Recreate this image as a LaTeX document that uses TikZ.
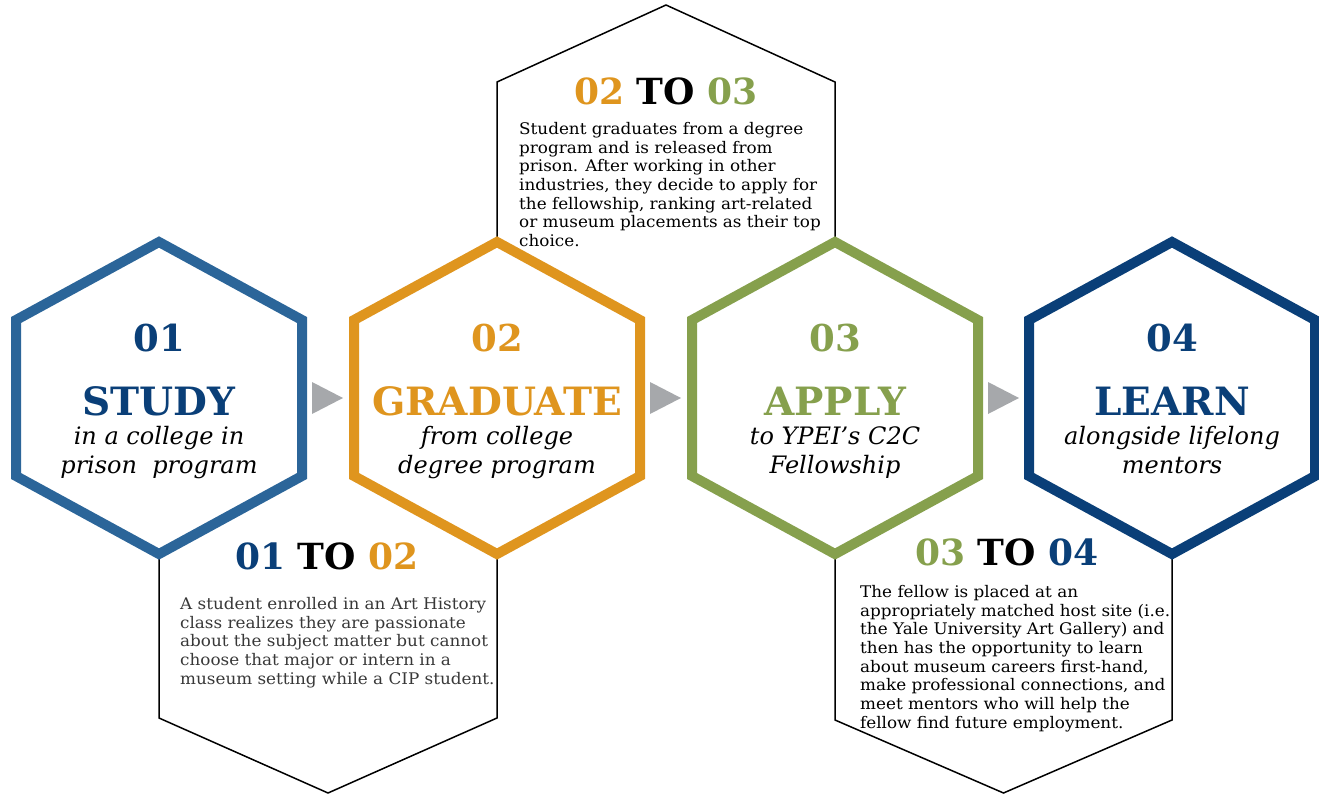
\documentclass[tikz,border=0pt]{standalone}
\usepackage{fontspec}
\setmainfont{DejaVu Serif}
\newfontfamily\bodyfont[FakeStretch=1.05]{DejaVu Serif}
\usetikzlibrary{positioning}

\definecolor{stepblue}{HTML}{2B6599}
\definecolor{stepnavy}{HTML}{0A3F78}
\definecolor{steporange}{HTML}{DF951E}
\definecolor{stepgreen}{HTML}{86A04D}
\definecolor{arrowgray}{HTML}{A6A8AB}

\tikzset{
  hexline/.style={line width=10pt, fill=white},
  outline/.style={line width=1.5pt, black},
  stepnum/.style={font=\fontsize{37}{40}\selectfont\bfseries, anchor=base, inner sep=0pt},
  steptitle/.style={font=\fontsize{39}{42}\selectfont\bfseries, anchor=base, inner sep=0pt},
  stepsub/.style={font=\itshape\fontsize{24}{30}\selectfont, anchor=base, inner sep=0pt},
  linkhead/.style={font=\fontsize{36}{40}\selectfont\bfseries, anchor=base, inner sep=0pt},
  linkbody/.style={font=\bodyfont\fontsize{16}{18.7}\selectfont, align=left, anchor=north west, inner sep=0pt},
}

% one coloured step hexagon round coordinate #1
\newcommand{\hexstep}[2]{%
  \draw[hexline, draw=#2] (#1) ++(0,-156) -- ++(143,78) -- ++(0,156)
    -- ++(-143,78) -- ++(-143,-78) -- ++(0,-156) -- cycle;
}

\begin{document}
\begin{tikzpicture}[x=1pt, y=-1pt]
    \useasboundingbox (0,0) rectangle (1319,794);

    % Step centres
    \coordinate (h1) at (159,398);
    \coordinate (h2) at (497,398);
    \coordinate (h3) at (835,398);
    \coordinate (h4) at (1172,398);

    % Thin outlines behind the steps
    \draw[outline] (h2) -- ++(0,-316) -- ++(169,-77) -- ++(169,77) -- (h3);
    \draw[outline] (h1) -- ++(0,320) -- ++(169,75) -- ++(169,-75) -- (h2);
    \draw[outline] (h3) -- ++(0,322) -- ++(168.5,73) -- ++(168.5,-73) -- (h4);

    % Step hexagons
    \hexstep{h1}{stepblue}
    \hexstep{h2}{steporange}
    \hexstep{h3}{stepgreen}
    \hexstep{h4}{stepnavy}

    % Arrows between steps
    \foreach \h in {h1,h2,h3}
      \fill[arrowgray] ([xshift=153pt, yshift=16pt]\h) -- ++(31,16) -- ++(-31,16) -- cycle;

    % Step texts
    \foreach \h/\num/\title/\subA/\subB/\col in {
        h1/01/STUDY/in a college in/prison\ \ program/stepnavy,
        h2/02/GRADUATE/from college/degree program/steporange,
        h3/03/APPLY/to YPEI’s C2C/Fellowship/stepgreen,
        h4/04/LEARN/alongside lifelong/mentors/stepnavy} {
      \node[stepnum, text=\col] (\h-num) at ([yshift=47pt]\h) {\num};
      \node[steptitle, text=\col] (\h-title) at ([yshift=-17pt]\h) {\title};
      \node[stepsub] (\h-subA) at ([yshift=-46pt]\h) {\subA};
      \node[stepsub] (\h-subB) at ([yshift=-75pt]\h) {\subB};
    }

    % Links between steps
    \node[linkhead] (l12) at (327,569) {{\color{stepnavy}01} TO {\color{steporange}02}};
    \node[linkhead] (l23) at (666,105) {{\color{steporange}02} TO {\color{stepgreen}03}};
    \node[linkhead] (l34) at (1007,565) {{\color{stepgreen}03} TO {\color{stepnavy}04}};

    \node[linkbody, text=black!78] (l12-text) at (180,597) {A student enrolled in an Art History\\
      class realizes they are passionate\\ about the subject matter but cannot\\
      choose that major or intern in a\\ museum setting while a CIP student.};
    \node[linkbody] (l23-text) at (519,122) {Student graduates from a degree\\
      program and is released from\\ prison. After working in other\\
      industries, they decide to apply for\\ the fellowship, ranking art-related\\
      or museum placements as their top\\ choice.};
    \node[linkbody] (l34-text) at (860,585) {The fellow is placed at an\\
      appropriately matched host site (i.e.\\ the Yale University Art Gallery) and\\
      then has the opportunity to learn\\ about museum careers first-hand,\\
      make professional connections, and\\ meet mentors who will help the\\
      fellow find future employment.};
\end{tikzpicture}
\end{document}
